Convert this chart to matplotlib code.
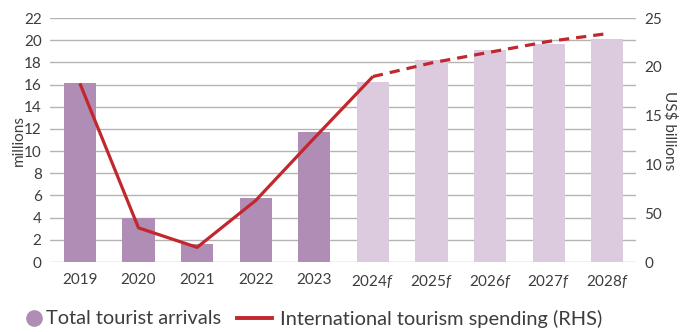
import matplotlib
matplotlib.use("Agg")
import matplotlib.pyplot as plt
from matplotlib.lines import Line2D
import numpy as np

plt.rcParams["font.family"] = ["Lato", "DejaVu Sans"]
plt.rcParams["mathtext.fontset"] = "custom"
plt.rcParams["mathtext.it"] = "Lato:italic"
plt.rcParams["mathtext.rm"] = "Lato"

years = ["2019", "2020", "2021", "2022", "2023", "2024f", "2025f", "2026f", "2027f", "2028f"]
arrivals = [16.1, 4.0, 1.6, 5.8, 11.7, 16.2, 18.2, 19.1, 19.7, 20.1]
spending = [18.3, 3.5, 1.5, 6.3, 12.7, 19.0, 20.4, 21.5, 22.6, 23.4]
n_actual = 5

left_ticks = list(range(0, 23, 2))
right_ticks = [0, 5, 10, 15, 20, 25]
right_labels = ["0", "50", "10", "15", "20", "25"]

bar_dark = "#b08db5"
bar_light = "#dccbdf"
line_red = "#c1272d"
text_col = "#3d3d3d"
grid_col = "#b4b4b4"
tick_size = 11

fig = plt.figure(figsize=(6.89, 3.32), dpi=100)
ax = fig.add_axes([50 / 689, 1 - 262 / 332, 586 / 689, 244 / 332])

x = np.arange(len(years))
colors = [bar_dark] * n_actual + [bar_light] * (len(years) - n_actual)
ax.bar(x, arrivals, width=0.55, color=colors, zorder=2)

ax.set_ylim(0, 22)
ax.set_xlim(-0.51, 9.49)
ax.set_yticks(left_ticks)
ax.yaxis.grid(True, color=grid_col, linewidth=1.0, zorder=0)
ax.set_axisbelow(True)
for s in ax.spines.values():
    s.set_visible(False)

def fmt_year(lbl):
    if lbl.endswith("f"):
        return lbl[:-1] + r"$\it{f}$"
    return lbl

ax.set_xticks(x)
ax.set_xticklabels([fmt_year(y) for y in years])
ax.tick_params(axis="x", length=0, pad=8, labelsize=tick_size, colors=text_col)
ax.tick_params(axis="y", length=0, pad=6, labelsize=tick_size, colors=text_col)
ax.set_ylabel("millions", fontsize=tick_size, color=text_col)
ax.yaxis.set_label_coords(-0.042, 0.5)

ax2 = ax.twinx()
ax2.set_ylim(0, 25)
for s in ax2.spines.values():
    s.set_visible(False)
ax2.plot(x[:n_actual + 1], spending[:n_actual + 1], color=line_red, linewidth=2.3,
         solid_capstyle="butt", zorder=3)
ax2.plot(x[n_actual:], spending[n_actual:], color=line_red, linewidth=2.3,
         linestyle=(0, (3.2, 2.2)), zorder=3)
ax2.set_yticks(right_ticks)
ax2.set_yticklabels(right_labels)
ax2.tick_params(axis="y", length=0, pad=6, labelsize=tick_size, colors=text_col)
ax2.set_ylabel("US$ billions", fontsize=tick_size, color=text_col, rotation=270)
ax2.yaxis.set_label_coords(1.07, 0.54)

# Legend: two pieces so the dot and the line can have different handle widths
legend_y = 1 - 319 / 332
leg_kw = dict(loc="center left", frameon=False, fontsize=14.4, labelcolor=text_col,
              borderpad=0, borderaxespad=0)
dot = Line2D([0], [0], marker="o", linestyle="none", markersize=11,
             markerfacecolor=bar_dark, markeredgecolor=bar_dark)
fig.legend([dot], ["Total tourist arrivals"], bbox_to_anchor=(25 / 689, legend_y),
           handlelength=0.85, handletextpad=0.2, **leg_kw)
red = Line2D([0], [0], color=line_red, linewidth=2.8)
fig.legend([red], ["International tourism spending (RHS)"],
           bbox_to_anchor=(237 / 689, legend_y),
           handlelength=1.75, handletextpad=0.4, **leg_kw)

fig.savefig("out.png", dpi=100)
